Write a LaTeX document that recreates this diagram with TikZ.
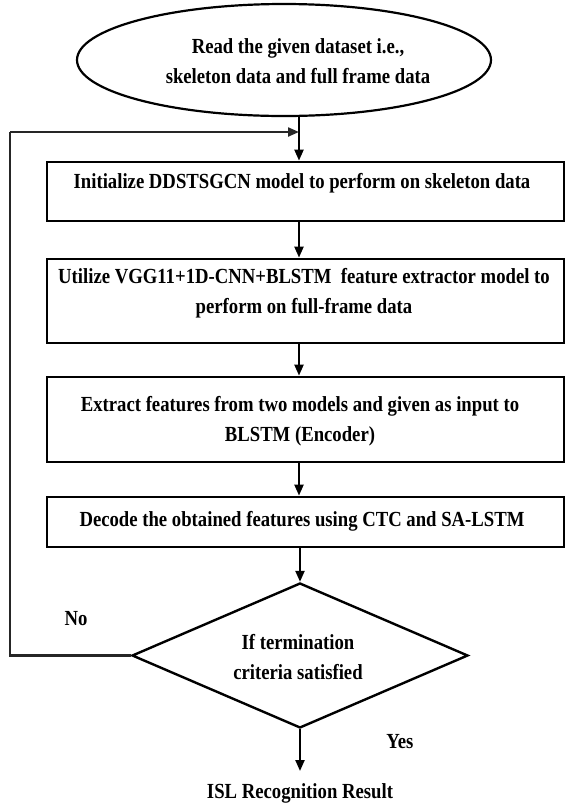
\documentclass[tikz,border=0pt]{standalone}
\usepackage{fontspec}
\setmainfont{Liberation Serif}
\newfontfamily\narrowserif[FakeStretch=0.87]{Liberation Serif}
\usetikzlibrary{shapes.geometric,arrows.meta}

\tikzset{
  procbox/.style={draw=black, line width=2.8pt, rectangle, minimum width=517pt, inner sep=0pt},
  startoval/.style={draw=black, line width=2.2pt, ellipse, minimum width=414pt, minimum height=112pt, inner sep=0pt},
  decision/.style={draw=black, line width=2.4pt, diamond, minimum width=336pt, minimum height=145pt, inner sep=0pt},
  lbl/.style={font=\narrowserif\fontsize{21.5}{29.5}\selectfont\bfseries, align=center, inner sep=0pt},
  flow/.style={line width=2.2pt, -{Triangle[length=11pt,width=9pt]}},
  loopline/.style={line width=2.6pt, draw=black!85}
}

\begin{document}
\begin{tikzpicture}[x=1pt,y=-1pt]
  \useasboundingbox (0,0) rectangle (565,807);

  % start: read the data
  \node[startoval] (start) at (284,60) {};
  \node[lbl] (starttext) at (298,61) {Read the given dataset i.e.,\\skeleton data and full frame data};

  % processing steps
  \node[procbox, minimum height=59pt] (init) at (305.5,191.5) {};
  \node[lbl] (inittext) at (302,183) {Initialize DDSTSGCN model to perform on skeleton data};

  \node[procbox, minimum height=84pt] (vgg) at (305.5,301) {};
  \node[lbl] (vggtext) at (304,293) {Utilize VGG11+1D-CNN+BLSTM\ \ feature extractor model to\\perform on full-frame data};

  \node[procbox, minimum height=85pt] (extract) at (305.5,419.5) {};
  \node[lbl] (extracttext) at (300,421) {Extract features from two models and given as input to\\BLSTM (Encoder)};

  \node[procbox, minimum height=50pt] (decode) at (305.5,522) {};
  \node[lbl] (decodetext) at (302,521) {Decode the obtained features using CTC and SA-LSTM};

  % termination test
  \node[decision] (check) at (300,655.5) {};
  \node[lbl] (checktext) at (298,657) {If termination\\criteria satisfied};

  \node[lbl] (result) at (300,793) {ISL Recognition Result};
  \node[lbl] (no) at (76,619) {No};
  \node[lbl] (yes) at (400,742) {Yes};

  % connector ends
  \coordinate (join) at (299,132);
  \coordinate (corner) at (10,655.5);
  \coordinate (turn) at (10,132);
  \coordinate (resultin) at (300,771);

  % main chain
  \draw[flow] (299,0 |- start.south) -- (299,0 |- init.north);
  \draw[flow] (299,0 |- init.south) -- (299,0 |- vgg.north);
  \draw[flow] (299,0 |- vgg.south) -- (299,0 |- extract.north);
  \draw[flow] (299,0 |- extract.south) -- (299,0 |- decode.north);
  \draw[flow] (300,0 |- decode.south) -- (check.north);
  \draw[flow] (check.south) -- (resultin);

  % loop back when not finished
  \draw[loopline] (check.west) -- (corner) -- (turn);
  \draw[flow, draw=black!85] (turn) -- (join);
\end{tikzpicture}
\end{document}
